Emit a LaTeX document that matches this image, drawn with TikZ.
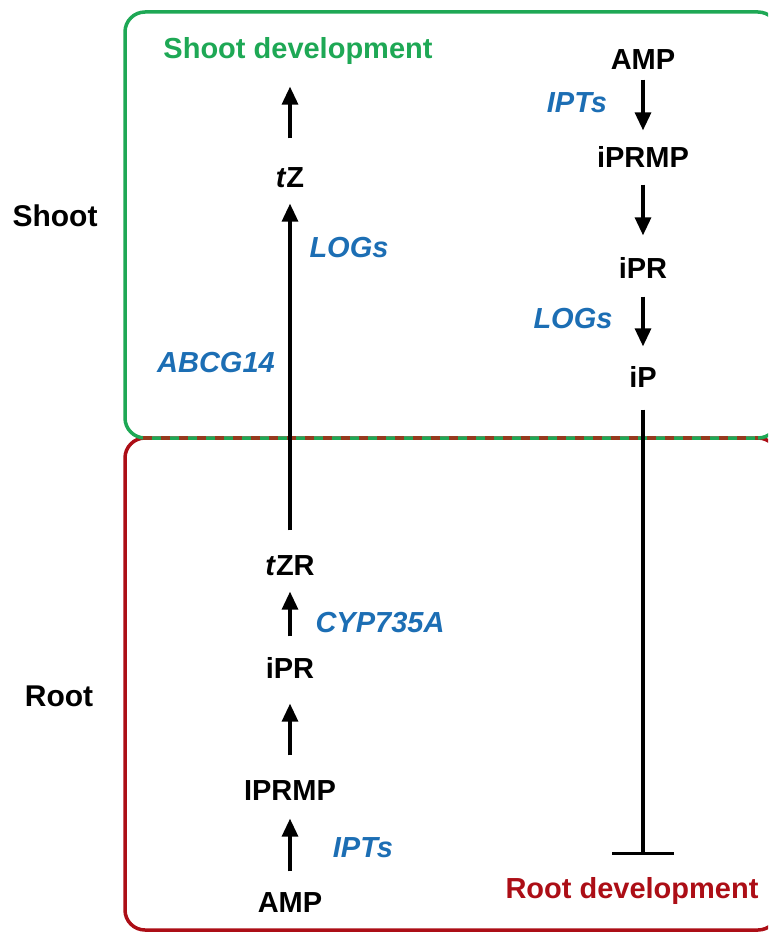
\documentclass[tikz,border=0pt]{standalone}
\usepackage{fontspec}
\setmainfont{Liberation Sans}
\usetikzlibrary{arrows.meta, calc}

\definecolor{shootgreen}{RGB}{30,168,85}
\definecolor{rootred}{RGB}{172,14,22}
\definecolor{geneblue}{RGB}{28,110,180}
\definecolor{dashbrown}{RGB}{150,58,30}

\begin{document}
\begin{tikzpicture}[
        x=1pt, y=-1pt,
        >={Triangle[width=16pt,length=18pt]},
        line width=3.3pt,
        font=\fontsize{29}{33}\selectfont\bfseries,
        metab/.style={inner sep=0pt, text height=21pt, text depth=0pt},
        gene/.style={metab, text=geneblue, font=\fontsize{29}{33}\selectfont\bfseries\itshape},
        organ/.style={metab, font=\fontsize{30}{34}\selectfont\bfseries},
        flow/.style={->}
    ]
        \useasboundingbox (0,0) rectangle (768,933);

        % === DEFINITIONS & COORDINATES ===
        \def\xLeft{290}    % root-to-shoot pathway
        \def\xRight{643}   % shoot pathway
        \def\ySplit{438}   % border between shoot and root

        % === 1. COMPARTMENTS ===
        \begin{scope}[line width=3.5pt]
            \clip (0,0) rectangle (768,933);
            \draw[rootred, rounded corners=20pt] (125,\ySplit) rectangle (778,930);
            \draw[shootgreen, rounded corners=20pt] (125,12) rectangle (778,\ySplit);
            \draw[dashbrown, dash pattern=on 9pt off 9pt] (143,\ySplit) -- (758,\ySplit);
        \end{scope}

        \node[organ] (Shoot) at (55,216) {Shoot};
        \node[organ] (Root) at (59,696) {Root};

        % === 2. LEFT PATHWAY (ROOT TO SHOOT) ===
        \node[metab, text=shootgreen] (ShootDev) at (298,48) {Shoot development};
        \node[metab] (tZ) at (\xLeft,177) {\textit{t}Z};
        \node[metab] (tZR) at (\xLeft,565) {\textit{t}ZR};
        \node[metab] (iPRl) at (\xLeft,668) {iPR};
        \node[metab] (IPRMPl) at (\xLeft,790) {IPRMP};
        \node[metab] (AMPl) at (\xLeft,902) {AMP};

        \draw[flow, shorten <=26.5pt, shorten >=26.5pt] (tZ) -- (tZ |- ShootDev.south);
        \draw[flow, shorten <=22.5pt, shorten >=14.5pt] (tZR) -- (tZ);
        \draw[flow, shorten <=19.5pt, shorten >=14.5pt] (iPRl) -- (tZR);
        \draw[flow, shorten <=22.5pt, shorten >=23.5pt] (IPRMPl) -- (iPRl);
        \draw[flow, shorten <=18.5pt, shorten >=16.5pt] (AMPl) -- (IPRMPl);

        % Enzymes and transporter
        \node[gene] (LOGsl) at (349,247) {LOGs};
        \node[gene] (ABCG) at (216,362) {ABCG14};
        \node[gene] (CYP) at (380,622) {CYP735A};
        \node[gene] (IPTsl) at (363,847) {IPTs};

        % === 3. RIGHT PATHWAY (SHOOT) ===
        \node[metab] (AMPr) at (\xRight,59) {AMP};
        \node[metab] (iPRMPr) at (\xRight,157) {iPRMP};
        \node[metab] (iPRr) at (\xRight,268) {iPR};
        \node[metab] (iPr) at (\xRight,377) {iP};
        \node[metab, text=rootred] (RootDev) at (632,888) {Root development};
        \coordinate (Inhib) at (\xRight,855);

        \draw[flow, shorten <=8.5pt, shorten >=14.5pt] (AMPr) -- (iPRMPr);
        \draw[flow, shorten <=15.5pt, shorten >=20.5pt] (iPRMPr) -- (iPRr);
        \draw[flow, shorten <=16.5pt, shorten >=18.5pt] (iPRr) -- (iPr);
        \draw[-{Bar[width=62pt]}, shorten <=20.5pt] (iPr) -- (Inhib);

        \node[gene] (IPTsr) at (577,102) {IPTs};
        \node[gene] (LOGsr) at (573,318) {LOGs};

    \end{tikzpicture}
\end{document}
